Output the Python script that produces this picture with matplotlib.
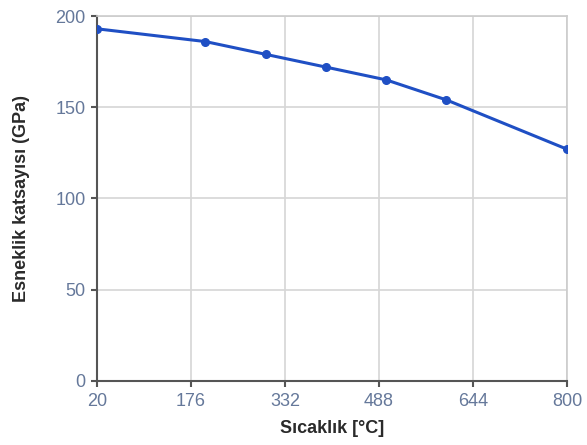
import matplotlib
matplotlib.use("Agg")
import matplotlib.pyplot as plt

# temperature (C) vs elastic modulus (GPa)
temps = [20, 200, 300, 400, 500, 600, 800]
modulus = [193, 186, 179, 172, 165, 154, 127]
xticks = [20, 176, 332, 488, 644, 800]
yticks = [0, 50, 100, 150, 200]

plt.rcParams['font.family'] = ['Liberation Sans', 'DejaVu Sans']

fig = plt.figure(figsize=(5.87, 4.45), dpi=100)
ax = fig.add_axes([0.165, 0.144, 0.801, 0.820])

ax.plot(temps, modulus, color='#1f4fc4', lw=2.2, marker='o', ms=5.5, zorder=3)

ax.set_xlim(20, 800)
ax.set_ylim(0, 200)
ax.set_xticks(xticks)
ax.set_yticks(yticks)
ax.grid(True, color='#d6d6d6', lw=1.2)
ax.set_axisbelow(True)

for s in ['top', 'right']:
    ax.spines[s].set_color('#cccccc')
    ax.spines[s].set_linewidth(1.2)
for s in ['left', 'bottom']:
    ax.spines[s].set_color('#555555')
    ax.spines[s].set_linewidth(1.5)

ax.tick_params(colors='#555555', labelcolor='#65789a', labelsize=13,
               length=4, width=1.5)
ax.tick_params(axis='x', pad=4.5)
ax.tick_params(axis='y', pad=4)
ax.set_xlabel('Sıcaklık [°C]', fontsize=13, fontweight='bold', color='#2a2a2a')
ax.set_ylabel('Esneklik katsayısı (GPa)', fontsize=13, fontweight='bold', color='#2a2a2a')
ax.xaxis.set_label_coords(0.5, -0.108)
ax.yaxis.set_label_coords(-0.143, 0.5)

fig.savefig('out.png', dpi=100)
